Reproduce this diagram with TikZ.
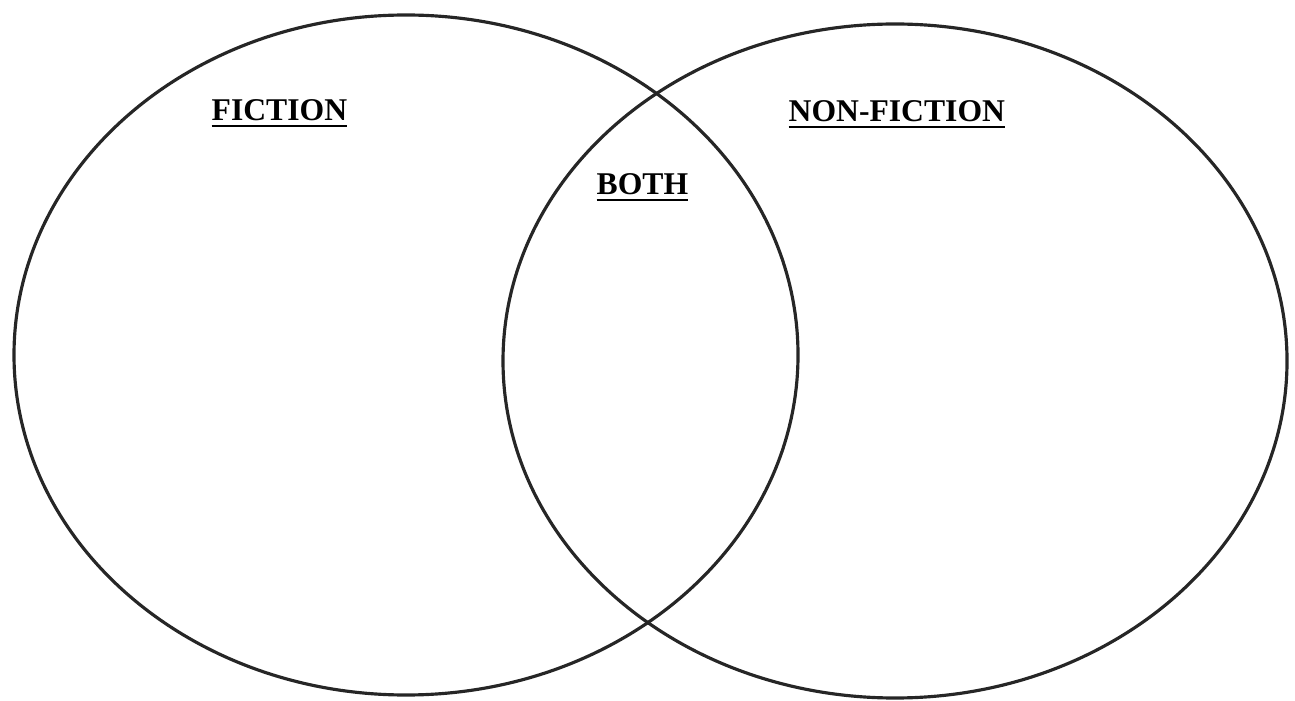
\documentclass[tikz,border=0pt]{standalone}
\usepackage{fontspec}
\setmainfont{Liberation Serif}
\usepackage{tikz}
\newcommand{\thickul}[1]{\setbox0\hbox{#1}\rlap{\rule[-1.75pt]{\wd0}{0.7pt}}\box0}

\begin{document}
\begin{tikzpicture}[x=0.01cm,y=0.01cm,
    ring/.style={draw=black!85, line width=0.9pt},
    setlabel/.style={anchor=base west, inner sep=0pt, font=\fontsize{9}{11}\selectfont\bfseries}]
  \useasboundingbox (0,0) rectangle (1295,700);
  % the two sets
  \draw[ring] (406,345) ellipse [x radius=392, y radius=340];
  \draw[ring] (895,339) ellipse [x radius=392, y radius=337];
  % set names
  \node[setlabel] (fic) at (211,579) {\thickul{FICTION}};
  \node[setlabel] (nonfic) at (788,578) {\thickul{NON-FICTION}};
  \node[setlabel] (both) at (596,505) {\thickul{BOTH}};
\end{tikzpicture}
\end{document}
